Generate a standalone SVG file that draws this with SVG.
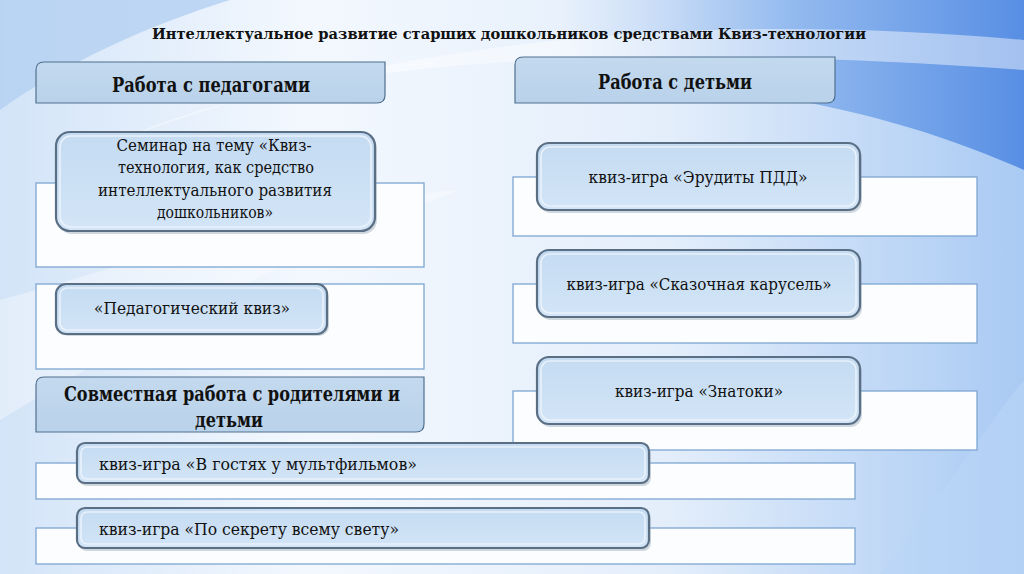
<svg xmlns="http://www.w3.org/2000/svg" width="1024" height="574" viewBox="0 0 1024 574">
<defs>
<linearGradient id="bg" x1="0" y1="0" x2="1" y2="0">
<stop offset="0" stop-color="#d3e4f8"/>
<stop offset="0.3" stop-color="#f3f8fe"/>
<stop offset="0.65" stop-color="#e4eefb"/>
<stop offset="1" stop-color="#a9caf3"/>
</linearGradient>
<linearGradient id="topr" x1="0" y1="0" x2="1" y2="0">
<stop offset="0" stop-color="#a9c8f1" stop-opacity="0"/>
<stop offset="0.5" stop-color="#8db6ee"/>
<stop offset="1" stop-color="#4f88e2"/>
</linearGradient>
<linearGradient id="card" x1="0" y1="0" x2="0" y2="1">
<stop offset="0" stop-color="#c4dbf2"/>
<stop offset="1" stop-color="#d3e5f7"/>
</linearGradient>
<linearGradient id="hdr" x1="0" y1="0" x2="0" y2="1">
<stop offset="0" stop-color="#c3d9ee"/>
<stop offset="1" stop-color="#b9d2ea"/>
</linearGradient>
<style>
.panel{fill:#fbfdff;stroke:#7da6d2;stroke-width:1.3}
.hdr{fill:url(#hdr);stroke:#50708f;stroke-width:1.2}
.cardo{fill:url(#card);stroke:#5b6f84;stroke-width:2.2}
.cardi{fill:none;stroke:#eef5fc;stroke-width:1.6;opacity:0.85}
.shadow{fill:#7d8ea0;opacity:0.35}
.t{font-family:"DejaVu Serif","Liberation Serif",serif;fill:#111}
.b{font-weight:bold}
.title{font-size:14.5px}
.h{font-size:19.5px}
.c{font-size:16.5px}
</style>
</defs>
<g id="background">
<rect x="0" y="0" width="1024" height="574" fill="url(#bg)"/>
<path d="M0,0 H230 C150,25 70,60 0,110 Z" fill="#b3cff1" opacity="0.8"/>
<path d="M560,0 H1024 V170 C900,115 780,92 640,80 C600,76 560,60 560,0 Z" fill="url(#topr)" opacity="0.9"/>
<path d="M120,140 C300,60 600,40 1024,70 V40 C700,10 380,40 120,140 Z" fill="#ffffff" opacity="0.45"/>
<path d="M0,300 C150,260 300,200 460,190 C300,250 150,330 0,420 Z" fill="#ffffff" opacity="0.35"/>
<path d="M880,574 C940,500 990,420 1024,380 V574 Z" fill="#b9d5f6" opacity="0.6"/>
</g>
<text class="t b title" x="509" y="39" text-anchor="middle" textLength="714" lengthAdjust="spacingAndGlyphs">Интеллектуальное развитие старших дошкольников средствами Квиз-технологии</text>
<g id="connectors">
<rect class="panel" x="36" y="183" width="388" height="84"/>
<rect class="panel" x="36" y="284" width="388" height="85"/>
<rect class="panel" x="513" y="177" width="464" height="59"/>
<rect class="panel" x="513" y="284" width="464" height="59"/>
<rect class="panel" x="513" y="391" width="464" height="59"/>
<rect class="panel" x="36" y="463" width="819" height="36"/>
<rect class="panel" x="36" y="528" width="819" height="36"/>
</g>
<g id="h-pedagogi">
<path class="hdr" d="M44,62 H385 V95 Q385,103 377,103 H36 V70 Q36,62 44,62 Z"/>
<text class="t b h" x="211" y="92" text-anchor="middle" textLength="198" lengthAdjust="spacingAndGlyphs">Работа с педагогами</text>
</g>
<g id="h-deti">
<path class="hdr" d="M523,57 H835 V95 Q835,103 827,103 H515 V65 Q515,57 523,57 Z"/>
<text class="t b h" x="675" y="89" text-anchor="middle" textLength="154" lengthAdjust="spacingAndGlyphs">Работа с детьми</text>
</g>
<g id="h-sovm">
<path class="hdr" d="M44,377 H424 V424 Q424,432 416,432 H36 V385 Q36,377 44,377 Z"/>
<text class="t b h" x="232" y="401" text-anchor="middle" textLength="336" lengthAdjust="spacingAndGlyphs">Совместная работа с родителями и</text>
<text class="t b h" x="229" y="427" text-anchor="middle" textLength="68" lengthAdjust="spacingAndGlyphs">детьми</text>
</g>
<g id="n-seminar">
<rect class="shadow" x="58" y="135" width="319" height="99" rx="14"/>
<rect class="cardo" x="56" y="132" width="319" height="99" rx="14"/>
<rect class="cardi" x="60" y="136" width="311" height="91" rx="11"/>
<text class="t c" x="214" y="151" text-anchor="middle" textLength="195" lengthAdjust="spacingAndGlyphs">Семинар на тему «Квиз-</text>
<text class="t c" x="216" y="173" text-anchor="middle" textLength="196" lengthAdjust="spacingAndGlyphs">технология, как средство</text>
<text class="t c" x="215" y="196" text-anchor="middle" textLength="234" lengthAdjust="spacingAndGlyphs">интеллектуального развития</text>
<text class="t c" x="215" y="218" text-anchor="middle" textLength="116" lengthAdjust="spacingAndGlyphs">дошкольников»</text>
</g>
<g id="n-pedkviz">
<rect class="shadow" x="58" y="287" width="271" height="49" rx="10"/>
<rect class="cardo" x="56" y="284" width="271" height="50" rx="10"/>
<rect class="cardi" x="60" y="288" width="263" height="42" rx="7"/>
<text class="t c" x="192" y="314" text-anchor="middle" textLength="196" lengthAdjust="spacingAndGlyphs">«Педагогический квиз»</text>
</g>
<g id="n-erudity">
<rect class="shadow" x="539" y="146" width="323" height="67" rx="12"/>
<rect class="cardo" x="537" y="143" width="323" height="67" rx="12"/>
<rect class="cardi" x="541" y="147" width="315" height="59" rx="9"/>
<text class="t c" x="698" y="183" text-anchor="middle" textLength="219" lengthAdjust="spacingAndGlyphs">квиз-игра «Эрудиты ПДД»</text>
</g>
<g id="n-karusel">
<rect class="shadow" x="539" y="253" width="323" height="67" rx="12"/>
<rect class="cardo" x="537" y="250" width="323" height="67" rx="12"/>
<rect class="cardi" x="541" y="254" width="315" height="59" rx="9"/>
<text class="t c" x="699" y="290" text-anchor="middle" textLength="265" lengthAdjust="spacingAndGlyphs">квиз-игра «Сказочная карусель»</text>
</g>
<g id="n-znatoki">
<rect class="shadow" x="539" y="360" width="323" height="67" rx="12"/>
<rect class="cardo" x="537" y="357" width="323" height="67" rx="12"/>
<rect class="cardi" x="541" y="361" width="315" height="59" rx="9"/>
<text class="t c" x="699" y="397" text-anchor="middle" textLength="168" lengthAdjust="spacingAndGlyphs">квиз-игра «Знатоки»</text>
</g>
<g id="n-multfilmy">
<rect class="shadow" x="79" y="446" width="572" height="40" rx="8"/>
<rect class="cardo" x="77" y="443" width="572" height="40" rx="8"/>
<rect class="cardi" x="81" y="447" width="564" height="32" rx="6"/>
<text class="t c" x="99" y="470" textLength="318" lengthAdjust="spacingAndGlyphs">квиз-игра «В гостях у мультфильмов»</text>
</g>
<g id="n-sekret">
<rect class="shadow" x="79" y="511" width="572" height="40" rx="8"/>
<rect class="cardo" x="77" y="508" width="572" height="40" rx="8"/>
<rect class="cardi" x="81" y="512" width="564" height="32" rx="6"/>
<text class="t c" x="99" y="535" textLength="300" lengthAdjust="spacingAndGlyphs">квиз-игра «По секрету всему свету»</text>
</g>
</svg>
